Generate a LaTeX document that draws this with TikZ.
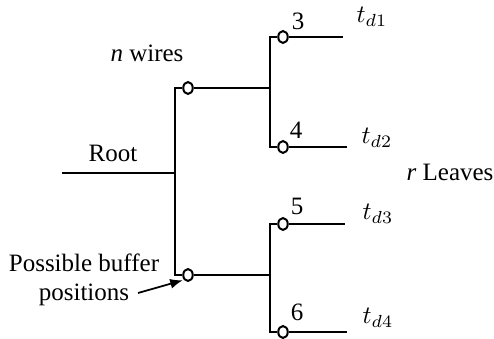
\documentclass[tikz,border=0pt]{standalone}
\usepackage{fontspec}
\setmainfont{Liberation Serif}
\usetikzlibrary{arrows.meta,shapes.geometric}

\begin{document}
\begin{tikzpicture}[x=0.4pt,y=-0.4pt,
  every node/.style={font=\fontsize{10}{11.5}\selectfont},
  buf/.style={draw=black,ellipse,line width=0.8pt,inner sep=0pt,minimum width=3.8pt,minimum height=4.8pt},
  wire/.style={line width=0.8pt},
  lbl/.style={inner sep=1pt},
  ar/.style={-{Latex[length=5pt,width=4pt]},line width=0.7pt,shorten >=0.5pt}]
\useasboundingbox (0,0) rectangle (494,339);
% buffers
\node[buf] (b1) at (188,88) {};
\node[buf] (b2) at (188,275) {};
\node[buf] (b3) at (283,37) {};
\node[buf] (b4) at (283,147) {};
\node[buf] (b5) at (283,224) {};
\node[buf] (b6) at (283,332) {};
% wire corners and ends
\coordinate (r0) at (62,173);
\coordinate (j0) at (175,173);
\coordinate (t1) at (175,88);
\coordinate (t2) at (175,275);
\coordinate (j1) at (270,88);
\coordinate (j2) at (270,275);
\coordinate (e3) at (343,37);
\coordinate (e4) at (347,147);
\coordinate (e5) at (345,224);
\coordinate (e6) at (347,332);
\draw[wire] (r0) -- (j0);
\draw[wire] (b1.west) -- (t1) -- (t2) -- (b2.west);
\draw[wire] (b1.east) -- (j1);
\draw[wire] (b2.east) -- (j2);
\draw[wire] (b3.west) -- (270,37) -- (270,147) -- (b4.west);
\draw[wire] (b5.west) -- (270,224) -- (270,332) -- (b6.west);
\foreach \b/\e in {b3/e3,b4/e4,b5/e5,b6/e6} \draw[wire] (\b.east) -- (\e);
% labels
\node[lbl] (root) at (113,153) {Root};
\node[lbl] (nw) at (147,53) {\textit{n} wires};
\node[lbl] (rl) at (450,172) {\textit{r} Leaves};
\node[lbl] (n3) at (298,21) {3};
\node[lbl] (n4) at (296,130) {4};
\node[lbl] (n5) at (297,206) {5};
\node[lbl] (n6) at (297,312) {6};
\node[lbl] (td1) at (372,17) {$t_{d1}$};
\node[lbl] (td2) at (377,138) {$t_{d2}$};
\node[lbl] (td3) at (378,214) {$t_{d3}$};
\node[lbl] (td4) at (378,318) {$t_{d4}$};
\node[lbl,align=center] (pb) at (84,280) {Possible buffer\\positions};
\coordinate (pa) at (138,293);
\draw[ar] (pa) -- (b2.south west);
\end{tikzpicture}
\end{document}
